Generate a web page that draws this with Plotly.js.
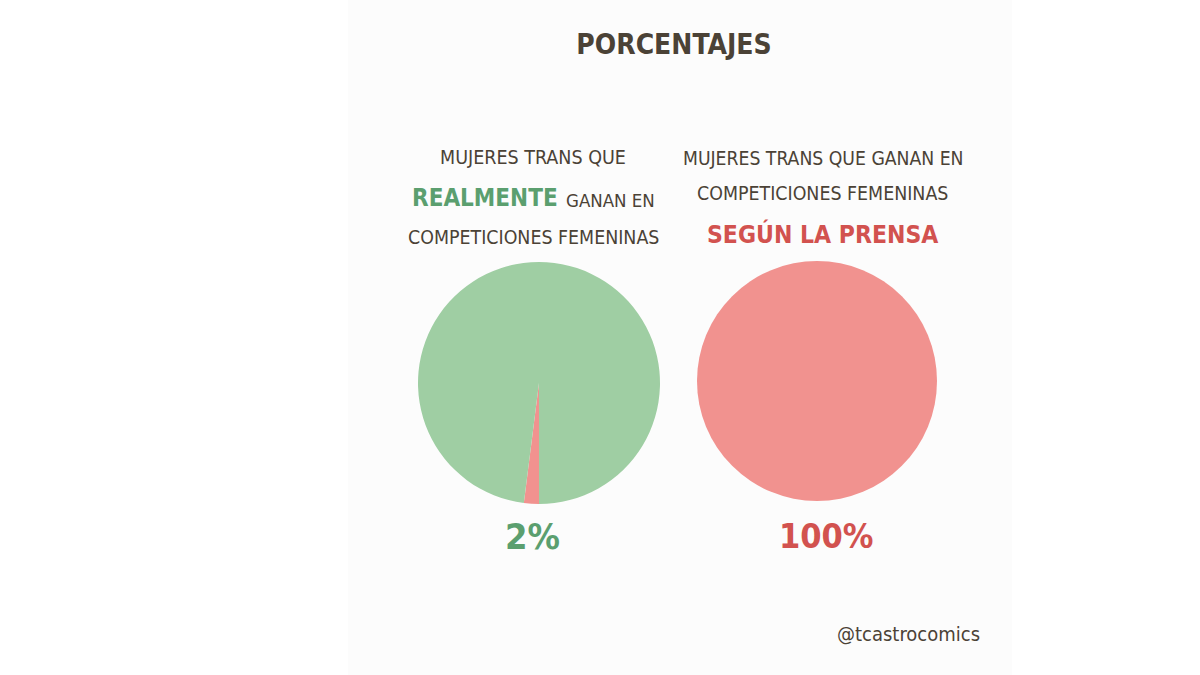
<!DOCTYPE html>
<html>
<head>
<meta charset="utf-8">
<script src="https://cdn.plot.ly/plotly-3.0.1.min.js"></script>
<style>html,body{margin:0;padding:0;background:#ffffff;}#chart{width:1200px;height:675px;}</style>
</head>
<body>
<div id="chart"></div>
<script>
// Data
const chartTitle = "PORCENTAJES";
const realLabels = ["Ganan", "No ganan"];
const realValues = [2, 98];
const pressLabels = ["Ganan", "No ganan"];
const pressValues = [100, 0];
const realPctLabel = "2%";
const pressPctLabel = "100%";

const GREEN = "#9fcea3";
const RED = "#f1928f";
const GREEN_TXT = "#5b9f6f";
const RED_TXT = "#d2524f";
const DARK = "#4b4236";
const FONT = "DejaVu Sans Condensed, sans-serif";

const W = 1200, H = 675;
const px = x => x / W;
const py = y => 1 - y / H;

const traces = [
  {
    type: "pie", labels: realLabels, values: realValues,
    marker: {colors: [RED, GREEN], line: {width: 0}},
    sort: false, direction: "clockwise", rotation: 180,
    textinfo: "none", hoverinfo: "none", showlegend: false,
    domain: {x: [px(418), px(660)], y: [py(504), py(262)]}
  },
  {
    type: "pie", labels: pressLabels, values: pressValues,
    marker: {colors: [RED, GREEN], line: {width: 0}},
    sort: false, direction: "clockwise", rotation: 0,
    textinfo: "none", hoverinfo: "none", showlegend: false,
    domain: {x: [px(697), px(937)], y: [py(501), py(261)]}
  }
];

function ann(text, x, y, size, color, weight) {
  return {text: text, x: px(x), y: py(y), xref: "paper", yref: "paper",
    xanchor: "center", yanchor: "middle", showarrow: false,
    font: {family: FONT, size: size, color: color, weight: weight || "normal"}};
}

const layout = {
  width: W, height: H,
  margin: {l: 0, r: 0, t: 0, b: 0},
  paper_bgcolor: "#ffffff",
  plot_bgcolor: "#ffffff",
  title: {text: chartTitle, x: px(674), xanchor: "center", y: py(44), yanchor: "middle",
    font: {family: FONT, size: 28, color: DARK, weight: "bold"}},
  shapes: [
    {type: "rect", xref: "paper", yref: "paper", x0: px(348), x1: px(1012), y0: 0, y1: 1,
     fillcolor: "#fcfcfc", line: {width: 0}, layer: "below"}
  ],
  annotations: [
    ann("MUJERES TRANS QUE", 533, 157, 19.5, DARK),
    ann("REALMENTE", 485, 198, 24, GREEN_TXT, "bold"),
    ann("GANAN EN", 610, 200, 18.5, DARK),
    ann("COMPETICIONES FEMENINAS", 533, 237, 19.4, DARK),
    ann("MUJERES TRANS QUE GANAN EN", 823, 158, 19.2, DARK),
    ann("COMPETICIONES FEMENINAS", 822, 193, 19.4, DARK),
    ann("SEGÚN LA PRENSA", 822, 234, 24.5, RED_TXT, "bold"),
    ann(realPctLabel, 532, 536, 36, GREEN_TXT, "bold"),
    ann(pressPctLabel, 826, 536, 34, RED_TXT, "bold"),
    ann("@tcastrocomics", 908, 634, 20, DARK)
  ]
};

Plotly.newPlot("chart", traces, layout, {displayModeBar: false, staticPlot: true});
</script>
</body>
</html>
